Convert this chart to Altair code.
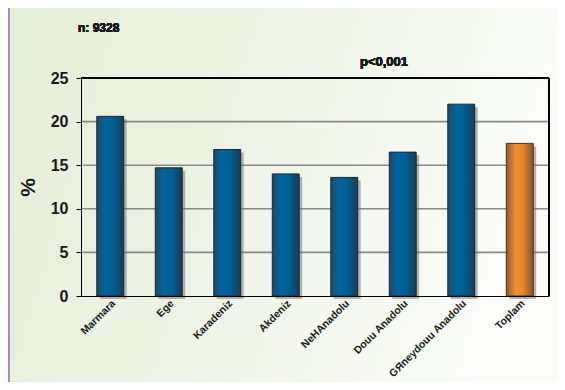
import altair as alt
import pandas as pd

categories = ["Marmara", "Ege", "Karadeniz", "Akdeniz", "NeHAnadolu",
              "Douu Anadolu", "GЯneydouu Anadolu", "Toplam"]
values = [20.6, 14.7, 16.8, 14.0, 13.6, 16.5, 22.0, 17.5]
grid_values = [5, 10, 15, 20]
y_ticks = [0, 5, 10, 15, 20, 25]

df = pd.DataFrame({"cat": categories, "val": values})
grid_df = pd.DataFrame({"g": grid_values})

W, H = 468, 218
PL, PT, PR, PB = 73, 70, 8, 86

xscale = alt.Scale(domain=categories, paddingInner=0.54, paddingOuter=0.27)
yscale = alt.Scale(domain=[0, 25], nice=False)

xenc = alt.X("cat:N", scale=xscale, sort=categories, title=None,
             axis=alt.Axis(labelAngle=-45, ticks=False, domain=True, domainColor="#000",
                           labelFont="Liberation Sans", labelFontSize=10.5, labelFontWeight="bold",
                           labelColor="#1a1a1a", labelPadding=2, zindex=1, grid=False))
yenc = alt.Y("val:Q", scale=yscale, title="%",
             axis=alt.Axis(values=y_ticks, grid=False, domainColor="#000", tickColor="#000",
                           tickSize=5, labelPadding=8,
                           labelFont="Liberation Sans Narrow, Liberation Sans", labelFontSize=16,
                           labelFontWeight="bold", labelColor="#1a1a1a",
                           titleFont="Liberation Sans", titleFontSize=21, titleFontWeight="bold",
                           titleColor="#1a1a1a", titleAngle=-90, titleX=-53, titleY=109,
                           titleAlign="center", titleBaseline="middle", zindex=1))

bg_grad = alt.Gradient(gradient="linear", x1=0, x2=1, y1=0, y2=0.2,
                       stops=[alt.GradientStop(color="#e5eed6", offset=0),
                              alt.GradientStop(color="#eef4e6", offset=0.5),
                              alt.GradientStop(color="#fbfcf9", offset=1)])
blue_grad = alt.Gradient(gradient="linear", x1=0, x2=1, y1=0, y2=0,
                         stops=[alt.GradientStop(color="#1f4a66", offset=0),
                                alt.GradientStop(color="#00649c", offset=0.3),
                                alt.GradientStop(color="#005f94", offset=0.6),
                                alt.GradientStop(color="#1b3c55", offset=1)])
orange_grad = alt.Gradient(gradient="linear", x1=0, x2=1, y1=0, y2=0,
                           stops=[alt.GradientStop(color="#8c5a2c", offset=0),
                                  alt.GradientStop(color="#f0922f", offset=0.35),
                                  alt.GradientStop(color="#e5892b", offset=0.6),
                                  alt.GradientStop(color="#87552f", offset=1)])

background = alt.Chart(df).mark_rect(fill=bg_grad).encode(
    x=alt.value(-PL), x2=alt.value(W + PR), y=alt.value(-PT), y2=alt.value(H + PB))
left_line = alt.Chart(df).mark_rule(color="#a88cc6", strokeWidth=2).encode(
    x=alt.value(-PL + 1), y=alt.value(-PT), y2=alt.value(H + PB))

grid = alt.Chart(grid_df).mark_rule(color="#8a8a84", strokeWidth=1.6).encode(
    y=alt.Y("g:Q", scale=yscale))
top_border = alt.Chart(df).mark_rule(color="#000", strokeWidth=1).encode(
    x=alt.value(0), x2=alt.value(W), y=alt.value(0))
right_border = alt.Chart(df).mark_rule(color="#000", strokeWidth=1).encode(
    x=alt.value(W), y=alt.value(0), y2=alt.value(H))

shadow = alt.Chart(df).mark_bar(color="#6e6e6a", opacity=0.5, xOffset=3, yOffset=3, y2Offset=2).encode(
    x=xenc, y=yenc)
blue = alt.Chart(df).transform_filter(alt.datum.cat != "Toplam").mark_bar(
    fill=blue_grad, stroke="#16283a", strokeWidth=1).encode(x=xenc, y=yenc)
orange = alt.Chart(df).transform_filter(alt.datum.cat == "Toplam").mark_bar(
    fill=orange_grad, stroke="#4a3020", strokeWidth=1).encode(x=xenc, y=yenc)

n_text = alt.Chart(df).mark_text(text="n: 9328", font="Liberation Sans", fontSize=12,
                                 fontWeight="bold", color="#1a1a1a", align="left",
                                 baseline="middle").encode(x=alt.value(-3), y=alt.value(-50))
p_text = alt.Chart(df).mark_text(text="p<0,001", font="Liberation Sans", fontSize=13,
                                 fontWeight="bold", color="#1a1a1a", align="center",
                                 baseline="middle").encode(x=alt.value(303), y=alt.value(-16))

chart = alt.layer(background, left_line, grid, shadow, blue, orange, top_border, right_border,
                  n_text, p_text).properties(
    width=W, height=H, autosize=alt.AutoSizeParams(type="none"),
    padding={"left": PL, "top": PT, "right": PR, "bottom": PB},
    background="#eef4e6",
).configure_view(strokeWidth=0)

chart.save("out.html", embed_options={"renderer": "svg", "actions": False})
